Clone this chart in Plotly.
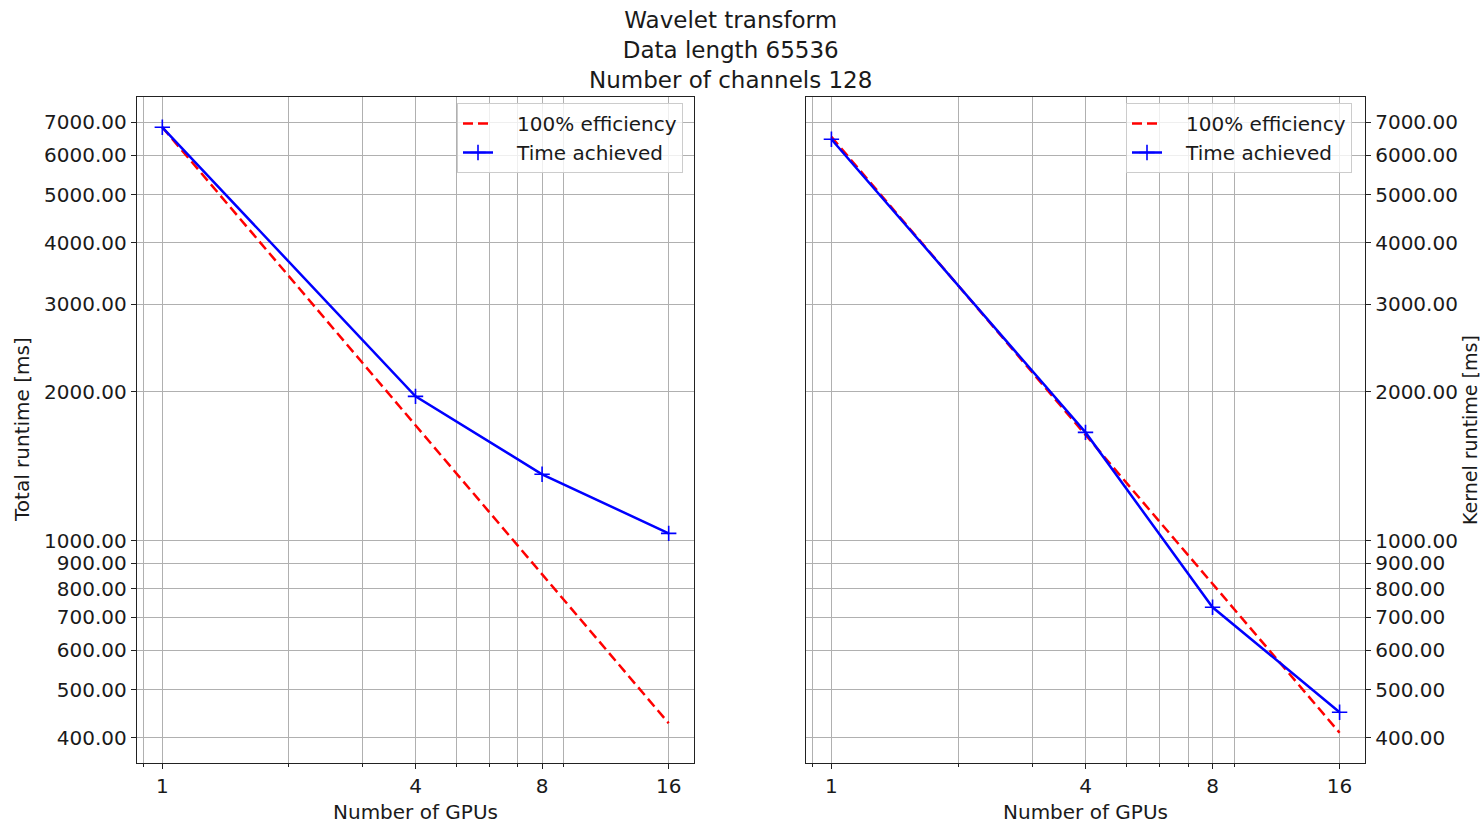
import math
import plotly.graph_objects as go

# ---- data ----
gpus = [1, 4, 8, 16]
total_achieved = [6840, 1956, 1361, 1034]
total_ideal = [6840, 1710, 855, 427.5]
kernel_achieved = [6470, 1654, 733, 450]
kernel_ideal = [6540, 1635, 818, 409]

x_major = [1, 4, 8, 16]
x_minor = [0.9, 2, 3, 5, 6, 7, 9]
y_ticks = [400, 500, 600, 700, 800, 900, 1000, 2000, 3000, 4000, 5000, 6000, 7000]
y_labels = [f"{v:.2f}" for v in y_ticks]

series_names = ["100% efficiency", "Time achieved"]
title_lines = ["Wavelet transform", "Data length 65536", "Number of channels 128"]

FONT = "DejaVu Sans"
W, H = 1483, 825
BLUE = "#0000ff"
RED = "#ff0000"
GRID = "#b0b0b0"
TXT = "#1a1a1a"
PAD = "\u00a0\u00a0\u00a0"

# ---- ranges (matplotlib-like 5% margins in log space) ----
xl, xh = math.log10(min(gpus)), math.log10(max(gpus))
xp = 0.05 * (xh - xl)
x_range = [xl - xp, xh + xp]
allv = total_achieved + total_ideal + kernel_achieved + kernel_ideal
yl, yh = math.log10(min(allv)), math.log10(max(allv))
yp = 0.05 * (yh - yl)
y_range = [yl - yp, yh + yp]

fig = go.Figure()

def add(x, y, xa, ya, legend, name, color, dash, marker):
    kw = dict(x=x, y=y, xaxis=xa, yaxis=ya, name=PAD + name, legend=legend,
              line=dict(color=color, width=2.5, dash=dash))
    if marker:
        kw["mode"] = "lines+markers"
        kw["marker"] = dict(symbol="cross-thin", size=11, color=color,
                            line=dict(width=1.6, color=color))
    else:
        kw["mode"] = "lines"
    fig.add_trace(go.Scatter(**kw))

add(gpus, total_ideal, "x", "y", "legend", series_names[0], RED, "10px,5px", False)
add(gpus, total_achieved, "x", "y", "legend", series_names[1], BLUE, "solid", True)
add(gpus, kernel_ideal, "x2", "y2", "legend2", series_names[0], RED, "10px,5px", False)
add(gpus, kernel_achieved, "x2", "y2", "legend2", series_names[1], BLUE, "solid", True)

def xaxis(domain, anchor):
    return dict(
        type="log", domain=domain, anchor=anchor, range=x_range,
        tickmode="array", tickvals=x_major, ticktext=[str(v) for v in x_major],
        ticks="outside", ticklen=5, tickwidth=1.3, tickcolor="#222",
        showgrid=True, gridcolor=GRID, gridwidth=1.3,
        minor=dict(tickmode="array", tickvals=x_minor, ticks="outside", ticklen=3,
                   tickwidth=1, tickcolor="#222", showgrid=True, gridcolor=GRID, gridwidth=1.3),
        showline=True, linecolor="#222", linewidth=1.4, mirror=True,
        tickfont=dict(family=FONT, size=20, color=TXT), zeroline=False,
        automargin=False,
    )

def yaxis(domain, anchor, side):
    return dict(
        type="log", domain=domain, anchor=anchor, range=y_range, side=side,
        tickmode="array", tickvals=y_ticks, ticktext=y_labels,
        ticks="outside", ticklen=5, tickwidth=1.3, tickcolor="#222",
        showgrid=True, gridcolor=GRID, gridwidth=1.3,
        showline=True, linecolor="#222", linewidth=1.4, mirror=True,
        tickfont=dict(family=FONT, size=20, color=TXT), zeroline=False,
        automargin=False,
    )

ydom = [1 - 763 / H, 1 - 97 / H]
legend_style = dict(xanchor="left", yanchor="top",
                    bgcolor="rgba(255,255,255,0.8)", bordercolor="#cccccc", borderwidth=1,
                    font=dict(family=FONT, size=20, color=TXT))
fig.update_layout(
    width=W, height=H,
    margin=dict(l=0, r=0, t=0, b=0),
    paper_bgcolor="white", plot_bgcolor="white",
    font=dict(family=FONT, size=20, color=TXT),
    xaxis=xaxis([137 / W, 694 / W], "y"),
    yaxis=yaxis(ydom, "x", "left"),
    xaxis2=xaxis([806 / W, 1365 / W], "y2"),
    yaxis2=yaxis(ydom, "x2", "right"),
    legend=dict(x=457 / W, y=1 - 103 / H, **legend_style),
    legend2=dict(x=1126 / W, y=1 - 103 / H, **legend_style),
    showlegend=True,
)

anns = [
    dict(text="<br>".join(title_lines), x=730 / W, y=1 - 50 / H, xref="paper", yref="paper",
         showarrow=False, xanchor="center", yanchor="middle",
         font=dict(family=FONT, size=23, color=TXT)),
    dict(text="Number of GPUs", x=415 / W, y=1 - 812 / H, xref="paper", yref="paper",
         showarrow=False, xanchor="center", yanchor="middle",
         font=dict(family=FONT, size=20, color=TXT)),
    dict(text="Number of GPUs", x=1085 / W, y=1 - 812 / H, xref="paper", yref="paper",
         showarrow=False, xanchor="center", yanchor="middle",
         font=dict(family=FONT, size=20, color=TXT)),
    dict(text="Total runtime [ms]", x=22 / W, y=1 - 430 / H, xref="paper", yref="paper",
         showarrow=False, xanchor="center", yanchor="middle", textangle=-90,
         font=dict(family=FONT, size=20, color=TXT)),
    dict(text="Kernel runtime [ms]", x=1470 / W, y=1 - 430 / H, xref="paper", yref="paper",
         showarrow=False, xanchor="center", yanchor="middle", textangle=-90,
         font=dict(family=FONT, size=19, color=TXT)),
]
fig.update_layout(annotations=anns)

fig.write_html("out.html")
